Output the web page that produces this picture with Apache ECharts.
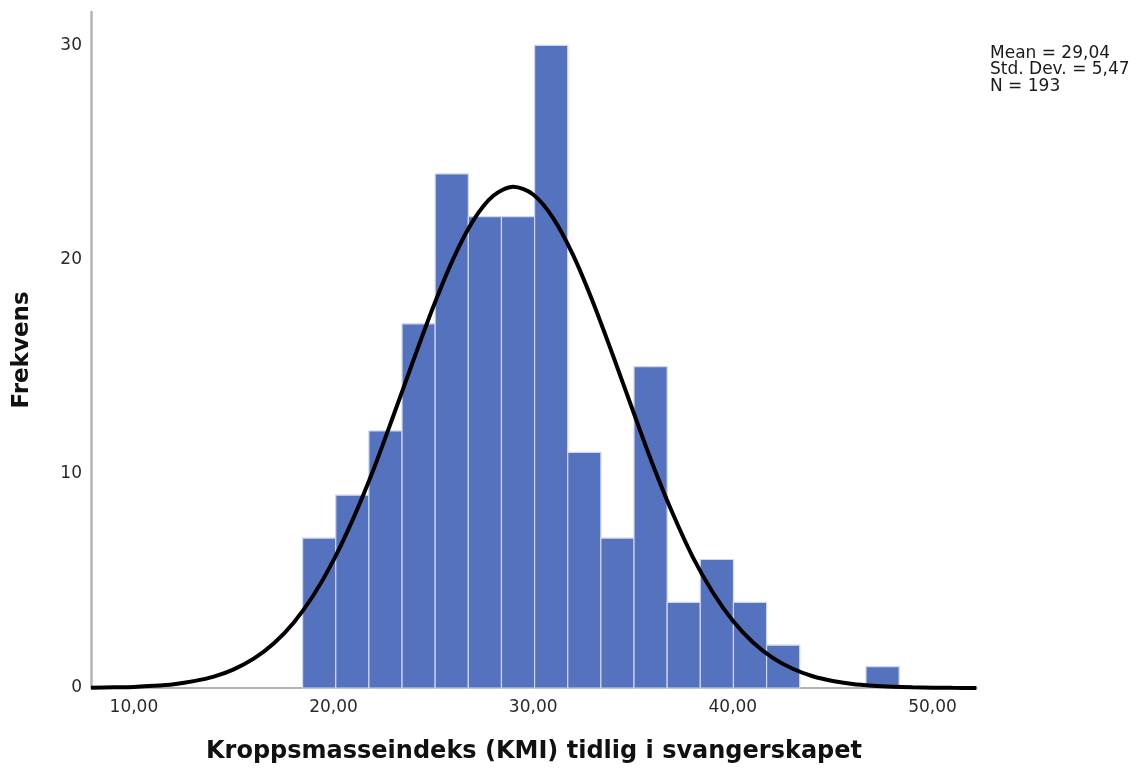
<!DOCTYPE html>
<html>
<head>
<meta charset="utf-8">
<script src="https://cdn.jsdelivr.net/npm/echarts@6/dist/echarts.min.js"></script>
<style>
html,body{margin:0;padding:0;background:#fff;}
#chart{width:1145px;height:772px;}
</style>
</head>
<body>
<div id="chart"></div>
<script>
// Histogram bins
const binStart = 18.45;
const binWidth = 1.66;
const binCounts = [7, 9, 12, 17, 24, 22, 22, 30, 11, 7, 15, 4, 6, 4, 2, 0, 0, 1];

// Normal curve points
const curveX = [7.85, 9, 10, 11, 12, 13, 14, 15, 16, 17, 18, 19, 20, 21, 22, 23, 24, 25, 26, 27, 28, 29, 30, 31, 32, 33, 34, 35, 36, 37, 38, 39, 40, 41, 42, 43, 44, 45, 46, 47, 48, 49, 50, 51, 52.2];
const curveY = [0.01, 0.03, 0.05, 0.10, 0.18, 0.32, 0.53, 0.87, 1.37, 2.08, 3.05, 4.34, 5.97, 7.94, 10.2, 12.72, 15.3, 17.81, 20.05, 21.83, 22.98, 23.4, 23.04, 21.94, 20.21, 18.0, 15.51, 12.93, 10.4, 8.12, 6.1, 4.46, 3.14, 2.14, 1.41, 0.90, 0.55, 0.33, 0.19, 0.11, 0.06, 0.03, 0.015, 0.007, 0.003];

// Axis tick labels
const xTickValues = [10, 20, 30, 40, 50];
const yTickValues = [0, 10, 20, 30];

const statsLines = ['Mean = 29,04', 'Std. Dev. = 5,47', 'N = 193'];
const xTitle = 'Kroppsmasseindeks (KMI) tidlig i svangerskapet';
const yTitle = 'Frekvens';

const binData = binCounts.map((c, i) => [binStart + i * binWidth, binStart + (i + 1) * binWidth, c]);
const curveData = curveX.map((x, i) => [x, curveY[i]]);

const chart = echarts.init(document.getElementById('chart'));
const font = 'DejaVu Sans';
chart.setOption({
  animation: false,
  backgroundColor: '#ffffff',
  grid: { left: 91, right: 168, top: 12, bottom: 84, containLabel: false },
  xAxis: {
    type: 'value',
    min: 7.85,
    max: 52.23,
    splitLine: { show: false },
    axisTick: { show: false },
    axisLine: { show: true, lineStyle: { color: '#9a9a9a', width: 1.5 } },
    axisLabel: {
      customValues: xTickValues,
      formatter: v => v.toFixed(2).replace('.', ','),
      fontFamily: font, fontSize: 17, color: '#2a2a2a', margin: 11
    },
    name: xTitle,
    nameLocation: 'middle',
    nameGap: 52,
    nameTextStyle: { fontFamily: font, fontSize: 24, fontWeight: 'bold', color: '#111' }
  },
  yAxis: {
    type: 'value',
    min: 0,
    max: 31.56,
    splitLine: { show: false },
    axisTick: { show: false },
    axisLine: { show: true, lineStyle: { color: '#b4b4b4', width: 2.5 } },
    axisLabel: {
      customValues: yTickValues,
      fontFamily: font, fontSize: 17, color: '#2a2a2a', margin: 9
    },
    name: yTitle,
    nameLocation: 'middle',
    nameGap: 57,
    nameRotate: 90,
    nameTextStyle: { fontFamily: font, fontSize: 23, fontWeight: 'bold', color: '#111' }
  },
  series: [
    {
      type: 'custom',
      data: binData,
      encode: { x: [0, 1], y: 2 },
      z: 2,
      renderItem: function (params, api) {
        const x0 = api.value(0), x1 = api.value(1), c = api.value(2);
        if (!c) return null;
        const p0 = api.coord([x0, c]);
        const p1 = api.coord([x1, 0]);
        return {
          type: 'rect',
          shape: { x: p0[0], y: p0[1], width: p1[0] - p0[0], height: p1[1] - p0[1] },
          style: { fill: '#5472be', stroke: '#cfd6ee', lineWidth: 1.2 }
        };
      }
    },
    {
      type: 'line',
      data: curveData,
      smooth: 0.3,
      showSymbol: false,
      symbol: 'none',
      z: 5,
      clip: false,
      lineStyle: { color: '#000', width: 4 }
    }
  ],
  graphic: [
    {
      type: 'text',
      left: 990,
      top: 45,
      style: {
        text: statsLines.join('\n'),
        fontFamily: font,
        fontSize: 17,
        lineHeight: 16.5,
        fill: '#1a1a1a'
      }
    }
  ]
});
</script>
</body>
</html>
